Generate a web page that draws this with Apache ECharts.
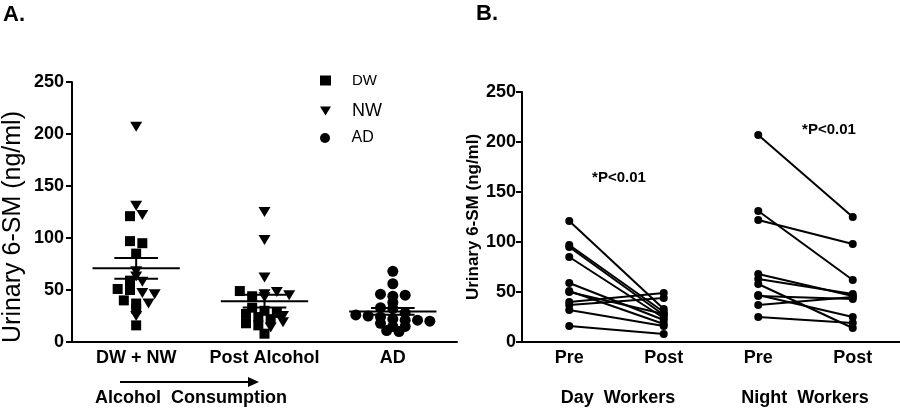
<!DOCTYPE html>
<html><head><meta charset="utf-8">
<script src="https://cdn.jsdelivr.net/npm/echarts@6/dist/echarts.min.js"></script>
<style>html,body{margin:0;padding:0;background:#fff}#c{width:900px;height:408px}</style>
</head><body><div id="c"></div>
<script>
// ---------- data ----------
const groupLabels = ['DW + NW', 'Post Alcohol', 'AD'];
const prePostLabels = ['Pre', 'Post', 'Pre', 'Post'];
const yTickMax = 250;
const yTickStep = 50;
// Day workers (DW): pre / post alcohol, paired by subject
const dayPre  = [121, 97, 95, 85, 59, 51, 50, 40, 37, 32, 16];
const dayPost = [33, 30, 27, 24, 22, 18, 28, 49, 44, 16, 8];
// Night workers (NW): pre / post alcohol, paired by subject
const nightPre  = [207, 131, 122, 68, 63, 58, 47, 46, 37, 25];
const nightPost = [125, 62, 98, 46, 48, 14, 25, 43, 45, 19];
// Alcohol dependent (AD)
const adValues = [68, 56, 46, 44, 45, 38, 33, 32, 28, 26, 25, 24, 22, 21, 21, 20, 18, 15, 15, 11, 10];

// ---------- layout helpers ----------
const FONT = '"Liberation Sans", Arial, sans-serif';
const SLOT = 12.5 / 130;   // horizontal slot width (x units) for scatter spreading
const BIN = 8;             // value bin for rows

function swarm(points, center) {
  const bins = {};
  points.forEach(p => { const k = Math.round(p.v / BIN); (bins[k] = bins[k] || []).push(p); });
  Object.values(bins).forEach(row => {
    const n = row.length;
    row.forEach((p, i) => { p.x = center + (i - (n - 1) / 2) * SLOT; });
  });
  return points;
}
const col1 = swarm(dayPre.map(v => ({v, s: 'DW'})).concat(nightPre.map(v => ({v, s: 'NW'}))), 1);
const col2 = swarm(dayPost.map(v => ({v, s: 'DW'})).concat(nightPost.map(v => ({v, s: 'NW'}))), 2);
const col3 = swarm(adValues.map(v => ({v, s: 'AD'})), 3);
const allPts = col1.concat(col2, col3);
const pick = s => allPts.filter(p => p.s === s).map(p => [p.x, p.v]);

function stats(arr) {
  const n = arr.length, m = arr.reduce((a, b) => a + b, 0) / n;
  const sd = Math.sqrt(arr.reduce((a, b) => a + (b - m) * (b - m), 0) / (n - 1));
  return [m, sd / Math.sqrt(n)];
}
const summary = [
  [1].concat(stats(dayPre.concat(nightPre))),
  [2].concat(stats(dayPost.concat(nightPost))),
  [3].concat(stats(adValues))
];

const triDown = 'path://M0,0L12,0L6,10Z';

const axisLineStyle = {lineStyle: {color: '#000', width: 2}};
const tickStyle = {lineStyle: {color: '#000', width: 2}};
const boldLabel = {color: '#000', fontFamily: FONT, fontWeight: 'bold', fontSize: 18};
const black = {color: '#000', opacity: 1};

// ---------- series ----------
const series = [
  {name: 'DW', type: 'scatter', xAxisIndex: 1, yAxisIndex: 0, symbol: 'rect', symbolSize: 10,
   itemStyle: black, data: pick('DW'), silent: true},
  {name: 'NW', type: 'scatter', xAxisIndex: 1, yAxisIndex: 0, symbol: triDown, symbolSize: [12, 10],
   itemStyle: black, data: pick('NW'), silent: true},
  {name: 'AD', type: 'scatter', xAxisIndex: 1, yAxisIndex: 0, symbol: 'circle', symbolSize: 11,
   itemStyle: black, data: pick('AD'), silent: true},
  {name: 'meanSEM', type: 'custom', xAxisIndex: 1, yAxisIndex: 0, data: summary, silent: true, z: 5,
   renderItem(params, api) {
     const x = api.value(0), m = api.value(1), s = api.value(2);
     const st = {stroke: '#000', lineWidth: 2};
     const seg = (x1, y1, x2, y2) => {
       const a = api.coord([x1, y1]), b = api.coord([x2, y2]);
       return {type: 'line', shape: {x1: a[0], y1: a[1], x2: b[0], y2: b[1]}, style: st};
     };
     return {type: 'group', children: [
       seg(x - 0.34, m, x + 0.34, m),
       seg(x - 0.17, m + s, x + 0.17, m + s),
       seg(x - 0.17, m - s, x + 0.17, m - s),
       seg(x, m - s, x, m + s)
     ]};
   }}
];
dayPre.forEach((v, i) => series.push({
  name: 'day' + i, type: 'line', xAxisIndex: 2, yAxisIndex: 1, symbol: 'circle', symbolSize: 8,
  lineStyle: {color: '#000', width: 2}, itemStyle: black, silent: true,
  data: [[0, v], [1, dayPost[i]]]
}));
nightPre.forEach((v, i) => series.push({
  name: 'night' + i, type: 'line', xAxisIndex: 2, yAxisIndex: 1, symbol: 'circle', symbolSize: 8,
  lineStyle: {color: '#000', width: 2}, itemStyle: black, silent: true,
  data: [[2, v], [3, nightPost[i]]]
}));

function legendFor(name, icon, top, fontSize) {
  return {
    data: [{name, icon}], left: 320, top, orient: 'vertical', selectedMode: false,
    itemWidth: 11, itemHeight: 10, padding: 0,
    formatter: '{s|}{name}',
    textStyle: {color: '#000', fontFamily: FONT, fontSize, rich: {s: {width: 16}}}
  };
}

const yAxisCommon = {
  type: 'value', min: 0, max: yTickMax, interval: yTickStep,
  splitLine: {show: false}, axisLine: {show: true, ...axisLineStyle},
  axisTick: {show: true, length: 6, ...tickStyle},
  nameLocation: 'middle'
};

const option = {
  animation: false,
  backgroundColor: '#fff',
  grid: [
    {left: 66, top: 82, width: 391, height: 260},
    {left: 522, top: 92, width: 378, height: 250}
  ],
  legend: [
    legendFor('DW', 'rect', 73, 15),
    legendFor('NW', triDown, 102, 18),
    legendFor('AD', 'circle', 130, 16)
  ],
  xAxis: [
    {type: 'category', gridIndex: 0, data: groupLabels, boundaryGap: true,
     axisLine: axisLineStyle, axisTick: {alignWithLabel: true, length: 5, ...tickStyle},
     axisLabel: {...boldLabel, margin: 7, interval: 0}},
    {type: 'value', gridIndex: 0, min: 0.5, max: 3.5, show: false},
    {type: 'category', gridIndex: 1, data: prePostLabels, boundaryGap: true,
     axisLine: axisLineStyle, axisTick: {alignWithLabel: true, length: 5, ...tickStyle},
     axisLabel: {...boldLabel, margin: 7, interval: 0}}
  ],
  yAxis: [
    {...yAxisCommon, gridIndex: 0, axisLabel: {...boldLabel, margin: 8},
     name: 'Urinary 6-SM (ng/ml)', nameGap: 46,
     nameTextStyle: {color: '#000', fontFamily: FONT, fontSize: 25, padding: [0, 30, 0, 0]}},
    {...yAxisCommon, gridIndex: 1, axisLabel: {...boldLabel, margin: 6},
     name: 'Urinary 6-SM (ng/ml)', nameGap: 40,
     nameTextStyle: {color: '#000', fontFamily: FONT, fontSize: 17, fontWeight: 'bold'}}
  ],
  graphic: [
    {type: 'text', left: 3, top: 4, style: {text: 'A.', font: 'bold 22px ' + FONT, fill: '#000'}},
    {type: 'text', left: 476, top: 3, style: {text: 'B.', font: 'bold 22px ' + FONT, fill: '#000'}},
    {type: 'text', x: 619, y: 178, style: {text: '*P<0.01', font: 'bold 15px ' + FONT, fill: '#000', align: 'center', verticalAlign: 'middle'}},
    {type: 'text', x: 829, y: 130, style: {text: '*P<0.01', font: 'bold 15px ' + FONT, fill: '#000', align: 'center', verticalAlign: 'middle'}},
    {type: 'text', x: 191, y: 398, style: {text: 'Alcohol  Consumption', font: 'bold 18px ' + FONT, fill: '#000', align: 'center', verticalAlign: 'middle'}},
    {type: 'line', shape: {x1: 120, y1: 382, x2: 250, y2: 382}, style: {stroke: '#000', lineWidth: 2}},
    {type: 'polygon', shape: {points: [[248, 377], [259, 382], [248, 387]]}, style: {fill: '#000'}},
    {type: 'text', x: 618, y: 398, style: {text: 'Day  Workers', font: 'bold 18px ' + FONT, fill: '#000', align: 'center', verticalAlign: 'middle'}},
    {type: 'text', x: 805, y: 398, style: {text: 'Night  Workers', font: 'bold 18px ' + FONT, fill: '#000', align: 'center', verticalAlign: 'middle'}}
  ],
  series
};
const chart = echarts.init(document.getElementById('c'), null, {renderer: 'canvas'});
chart.setOption(option);
</script></body></html>
